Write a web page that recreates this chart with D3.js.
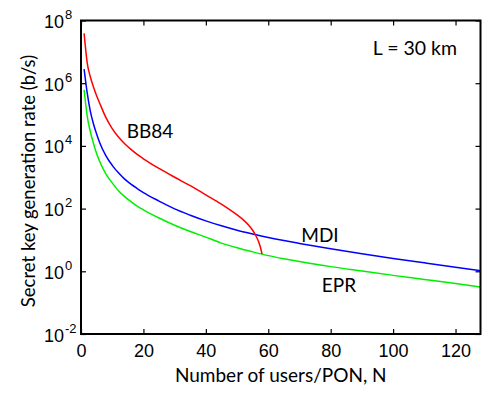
<!DOCTYPE html>
<html>
<head>
<meta charset="utf-8">
<script src="https://cdn.jsdelivr.net/npm/d3@7"></script>
<style>
  body { margin: 0; background: #fff; }
  svg { display: block; }
</style>
</head>
<body>
<div id="plot"></div>
<script>
// data
const bb84N = [1, 2, 3, 4, 5, 6, 8, 10, 12, 14, 16, 18, 20, 25, 30, 35, 40, 45, 50, 52, 54, 55, 56, 57, 57.5, 58];
const bb84Rate = [3.89e7, 4.37e6, 1.58e6, 7.59e5, 3.98e5, 2.29e5, 7.94e4, 3.55e4, 1.91e4, 1.17e4, 7.76e3, 5.37e3,
  3.89e3, 1.91e3, 1.0e3, 537, 275, 138, 63, 43.6, 27.5, 20.4, 13.8, 8.3, 5.75, 3.55];

const mdiN = [1, 2, 3, 4, 5, 6, 8, 10, 12, 14, 16, 18, 20, 25, 30, 35, 40, 45, 50, 55, 60, 65, 70, 80, 90, 100, 110, 120, 128];
const mdiRate = [2.82e6, 4.79e5, 1.26e5, 5.01e4, 2.40e4, 1.26e4, 4.79e3, 2.40e3, 1.38e3, 871, 603, 437,
  324, 174, 97.7, 61.7, 40.7, 28.2, 20.4, 15.5, 12.0, 9.55, 7.76, 5.25, 3.63, 2.57, 1.86, 1.35, 1.05];

const eprN = [1, 2, 3, 4, 5, 6, 8, 10, 12, 14, 16, 18, 20, 25, 30, 35, 40, 45, 50, 55, 60, 65, 70, 80, 90, 100, 110, 120, 128];
const eprRate = [6.17e5, 8.71e4, 2.82e4, 1.20e4, 5.75e3, 3.16e3, 1.26e3, 661, 372, 240, 166, 120,
  91.2, 50.1, 29.5, 18.6, 12.3, 7.94, 5.62, 4.17, 3.16, 2.51, 2.04, 1.41, 1.02, 0.741, 0.55, 0.407, 0.316];

const xTicks = [0, 20, 40, 60, 80, 100, 120];
const yTicks = [1e-2, 1e0, 1e2, 1e4, 1e6, 1e8];
const yTickExp = ["-2", "0", "2", "4", "6", "8"];

const w = 489;
const h = 393;
const margin = {top: 20.5, right: 8.5, bottom: 59, left: 81};
const innerWidth = w - margin.left - margin.right;
const innerHeight = h - margin.top - margin.bottom;

const svg = d3.select("div#plot")
  .append("svg")
    .attr("width", w)
    .attr("height", h);

const g = svg.append("g")
  .attr("transform", `translate(${margin.left}, ${margin.top})`);

const xScale = d3.scaleLinear()
  .domain([0, 128])
  .range([0, innerWidth]);

const yScale = d3.scaleLog()
  .domain([1e-2, 1e8])
  .range([innerHeight, 0]);

const tickFont = "'Liberation Sans', Arial, sans-serif";
const labelFont = "Lato, 'Open Sans', sans-serif";

// lines
const line = d3.line()
  .x(d => xScale(d[0]))
  .y(d => yScale(d[1]))
  .curve(d3.curveMonotoneX);

const series = [
  {n: eprN, r: eprRate, color: "#00ee00"},
  {n: mdiN, r: mdiRate, color: "#0000ff"},
  {n: bb84N, r: bb84Rate, color: "#ff0000"}
];

series.forEach(s => {
  g.append("path")
    .datum(s.n.map((n, i) => [n, s.r[i]]))
    .attr("fill", "none")
    .attr("stroke", s.color)
    .attr("stroke-width", 1.5)
    .attr("d", line);
});

// x axes (bottom with labels, top only ticks)
const xAxis = d3.axisBottom(xScale)
  .tickValues(xTicks)
  .tickSizeInner(-5)
  .tickSizeOuter(0)
  .tickPadding(10);

const xg = g.append("g")
  .attr("transform", `translate(0, ${innerHeight})`)
  .call(xAxis);
xg.select(".domain").remove();
xg.selectAll("text")
  .attr("font-family", tickFont)
  .attr("font-size", 18)
  .attr("fill", "#000");
xg.selectAll("line").attr("stroke", "#000").attr("stroke-width", 1.2);

const xgTop = g.append("g")
  .call(d3.axisTop(xScale).tickValues(xTicks).tickSizeInner(-5).tickSizeOuter(0).tickFormat(""));
xgTop.select(".domain").remove();
xgTop.selectAll("line").attr("stroke", "#000").attr("stroke-width", 1.2);

// y axes
const ygLeft = g.append("g")
  .call(d3.axisLeft(yScale).tickValues(yTicks).tickSizeInner(-5).tickSizeOuter(0).tickFormat(""));
ygLeft.select(".domain").remove();
ygLeft.selectAll("line").attr("stroke", "#000").attr("stroke-width", 1.2);

const ygRight = g.append("g")
  .attr("transform", `translate(${innerWidth}, 0)`)
  .call(d3.axisRight(yScale).tickValues(yTicks).tickSizeInner(-5).tickSizeOuter(0).tickFormat(""));
ygRight.select(".domain").remove();
ygRight.selectAll("line").attr("stroke", "#000").attr("stroke-width", 1.2);

// y tick labels: 10 with superscript exponent
yTicks.forEach((t, i) => {
  const lab = g.append("text")
    .attr("x", -37)
    .attr("y", yScale(t) + 7.5)
    .attr("font-family", tickFont)
    .attr("font-size", 18);
  lab.append("tspan").text("10");
  lab.append("tspan")
    .attr("dx", 1)
    .attr("dy", -9)
    .attr("font-size", 13)
    .text(yTickExp[i]);
});

// frame
g.append("rect")
  .attr("width", innerWidth)
  .attr("height", innerHeight)
  .attr("fill", "none")
  .attr("stroke", "#000")
  .attr("stroke-width", 2);

// axis labels
g.append("text")
  .attr("x", innerWidth / 2)
  .attr("y", innerHeight + 48)
  .attr("text-anchor", "middle")
  .attr("font-family", labelFont)
  .attr("font-size", 19)
  .text("Number of users/PON, N");

g.append("text")
  .attr("transform", `translate(${35 - margin.left}, ${181 - margin.top}) rotate(-90)`)
  .attr("text-anchor", "middle")
  .attr("font-family", labelFont)
  .attr("font-size", 18.5)
  .text("Secret key generation rate (b/s)");

// annotations
const notes = [
  {t: "BB84", x: 150, y: 138},
  {t: "MDI", x: 320, y: 242},
  {t: "EPR", x: 339, y: 292}
];
notes.forEach(d => {
  svg.append("text")
    .attr("x", d.x)
    .attr("y", d.y)
    .attr("text-anchor", "middle")
    .attr("font-family", labelFont)
    .attr("font-size", 19)
    .text(d.t);
});

svg.append("text")
  .attr("x", 457)
  .attr("y", 55)
  .attr("text-anchor", "end")
  .attr("font-family", labelFont)
  .attr("font-size", 19.5)
  .text("L = 30 km");
</script>
</body>
</html>
